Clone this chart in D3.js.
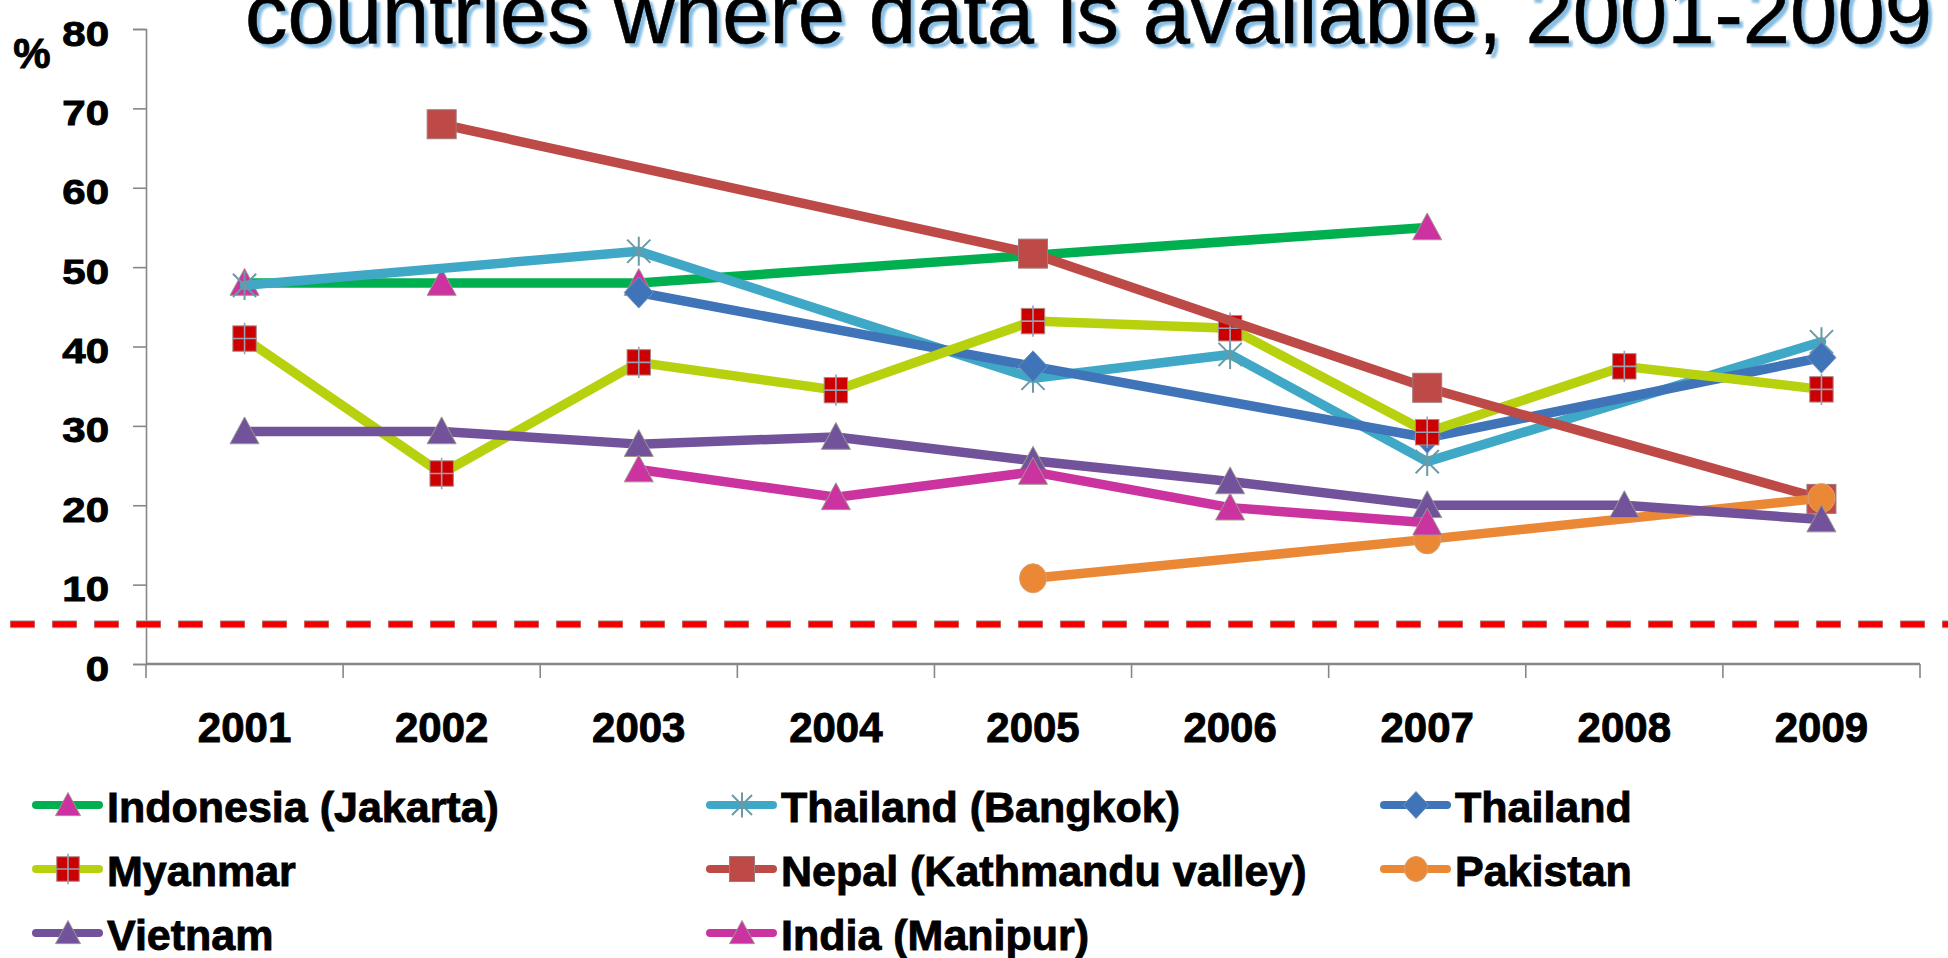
<!DOCTYPE html>
<html>
<head>
<meta charset="utf-8">
<script src="https://cdn.jsdelivr.net/npm/d3@7"></script>
<style>
  html, body { margin: 0; padding: 0; background: #fff; overflow: hidden; }
  text { font-family: "Liberation Sans", Arial, sans-serif; }
</style>
</head>
<body>
<script>
// data (% values, null = no survey that year)
const years = ["2001", "2002", "2003", "2004", "2005", "2006", "2007", "2008", "2009"];
const yTicks = [0, 10, 20, 30, 40, 50, 60, 70, 80];
const threshold = 5;

const indonesiaJakarta = [48, 48, 48, null, null, null, 55, null, null];
const thailandBangkok = [47.7, null, 52, null, 36, 39, 25.5, null, 40.6];
const thailand = [null, null, 46.8, null, 37.5, null, 28.5, null, 38.6];
const myanmar = [41, 24, 38, 34.5, 43.2, 42.3, 29.2, 37.5, 34.6];
const nepalKathmandu = [null, 68, null, null, 51.7, null, 34.8, null, 20.8];
const pakistan = [null, null, null, null, 10.8, null, 15.7, null, 20.9];
const vietnam = [29.3, 29.3, 27.7, 28.6, 25.6, 23, 20, 20, 18.2];
const indiaManipur = [null, null, 24.5, 21, 24.2, 19.7, 17.8, null, null];

const seriesNames = ["Indonesia (Jakarta)", "Thailand (Bangkok)", "Thailand", "Myanmar",
  "Nepal (Kathmandu valley)", "Pakistan", "Vietnam", "India (Manipur)"];

const series = [
  { name: seriesNames[0], values: indonesiaJakarta, line: "#00b050", marker: "triangle", fill: "#cc33a0" },
  { name: seriesNames[1], values: thailandBangkok, line: "#3fa8c6", marker: "star", fill: "#6a9aa6" },
  { name: seriesNames[2], values: thailand, line: "#3f74b8", marker: "diamond", fill: "#3f74b8" },
  { name: seriesNames[3], values: myanmar, line: "#b7d10e", marker: "crossSquare", fill: "#cc0000" },
  { name: seriesNames[4], values: nepalKathmandu, line: "#bd4a47", marker: "square", fill: "#bd4a47" },
  { name: seriesNames[5], values: pakistan, line: "#eb8836", marker: "circle", fill: "#eb8836" },
  { name: seriesNames[6], values: vietnam, line: "#71529b", marker: "triangle", fill: "#71529b" },
  { name: seriesNames[7], values: indiaManipur, line: "#cb34a0", marker: "triangle", fill: "#cb34a0" }
];

const width = 1948, height = 958;
const svg = d3.select("body").append("svg")
    .attr("width", width)
    .attr("height", height);

const x = d3.scaleBand().domain(years).range([146, 1920]);
const y = d3.scaleLinear().domain([0, 80]).range([664, 29]);

// title (top is cut off in the original)
const defs = svg.append("defs");
defs.append("filter").attr("id", "soft")
  .append("feGaussianBlur").attr("stdDeviation", 1.3);

const titleText = "countries where data is available, 2001-2009";
svg.append("text")
    .attr("x", 249).attr("y", 47)
    .attr("font-size", 85)
    .attr("fill", "#86bde4")
    .attr("filter", "url(#soft)")
    .text(titleText);
svg.append("text")
    .attr("x", 245).attr("y", 43)
    .attr("font-size", 85)
    .attr("fill", "#000")
    .attr("stroke", "#000").attr("stroke-width", 0.6)
    .text(titleText);

// bold labels look heavier in the original
function heavy(sel) {
  return sel.attr("font-weight", "bold").attr("fill", "#000")
    .attr("stroke", "#000").attr("stroke-width", 0.9);
}

// y axis
const yAxis = svg.append("g")
    .attr("transform", "translate(146,0)")
    .call(d3.axisLeft(y).tickValues(yTicks).tickSize(13).tickPadding(0).tickFormat(d3.format("d")));
yAxis.select(".domain").attr("stroke", "#878787").attr("stroke-width", 1.6);
yAxis.selectAll(".tick line").attr("stroke", "#878787").attr("stroke-width", 1.6);
yAxis.selectAll(".tick text").remove();
yAxis.selectAll(".tick").append("text")
    .attr("transform", "translate(-37,16) scale(1.2,1)")
    .attr("text-anchor", "end")
    .attr("font-size", 35)
    .call(heavy)
    .text(d => d);

svg.append("text")
    .attr("x", 32).attr("y", 68)
    .attr("text-anchor", "middle")
    .attr("font-size", 42)
    .call(heavy)
    .text("%");

// x axis: ticks on category boundaries
const xAxisG = svg.append("g");
xAxisG.append("line")
    .attr("x1", x.range()[0]).attr("x2", x.range()[1])
    .attr("y1", y(0)).attr("y2", y(0))
    .attr("stroke", "#878787").attr("stroke-width", 2.5);
xAxisG.selectAll("line.tk")
    .data(years.concat(["end"]))
    .enter().append("line")
    .attr("class", "tk")
    .attr("x1", (d, i) => x.range()[0] + i * x.bandwidth())
    .attr("x2", (d, i) => x.range()[0] + i * x.bandwidth())
    .attr("y1", y(0)).attr("y2", y(0) + 14)
    .attr("stroke", "#878787").attr("stroke-width", 1.6);
xAxisG.selectAll("text")
    .data(years)
    .enter().append("text")
    .attr("x", d => x(d) + x.bandwidth() / 2)
    .attr("y", 742)
    .attr("text-anchor", "middle")
    .attr("font-size", 42)
    .call(heavy)
    .text(d => d);

// 5% threshold, dashed red
svg.append("line")
    .attr("x1", 10).attr("x2", width)
    .attr("y1", y(threshold)).attr("y2", y(threshold))
    .attr("stroke", "#b0b0b0").attr("stroke-width", 8)
    .attr("stroke-dasharray", "25 17");
svg.append("line")
    .attr("x1", 10.5).attr("x2", width)
    .attr("y1", y(threshold)).attr("y2", y(threshold))
    .attr("stroke", "#f20000").attr("stroke-width", 6)
    .attr("stroke-dasharray", "24 18");

function drawMarker(g, type, s, fill) {
  const h = s / 2;
  if (type === "triangle") {
    g.append("path")
      .attr("d", `M0,${-h}L${h},${h * 0.85}L${-h},${h * 0.85}Z`)
      .attr("fill", fill).attr("stroke", "#9a9a8a").attr("stroke-width", 1);
  } else if (type === "diamond") {
    g.append("path")
      .attr("d", `M0,${-h - 1}L${h},0L0,${h + 1}L${-h},0Z`)
      .attr("fill", fill).attr("stroke", "#6f8fb8").attr("stroke-width", 1);
  } else if (type === "square") {
    g.append("rect")
      .attr("x", -h).attr("y", -h).attr("width", s).attr("height", s)
      .attr("fill", fill).attr("stroke", "#a07a7a").attr("stroke-width", 1);
  } else if (type === "crossSquare") {
    const q = h * 0.9;
    g.append("rect")
      .attr("x", -q).attr("y", -q - 1).attr("width", 2 * q).attr("height", 2 * q + 2)
      .attr("fill", fill).attr("stroke", "#a88").attr("stroke-width", 1);
    g.append("path")
      .attr("d", `M0,${-q - 4}V${q + 4}M${-q},0H${q}`)
      .attr("stroke", "#9aa0b0").attr("stroke-width", 1.6);
  } else if (type === "circle") {
    g.append("ellipse")
      .attr("rx", h - 1).attr("ry", h)
      .attr("fill", fill).attr("stroke", "#d9a070").attr("stroke-width", 1);
  } else if (type === "star") {
    const d = h * 0.8;
    g.append("path")
      .attr("d", `M0,${-h}V${h}M${-d},${-d}L${d},${d}M${d},${-d}L${-d},${d}`)
      .attr("stroke", fill).attr("stroke-width", 2).attr("fill", "none");
  }
}

const line = d3.line()
    .x(d => x(d.year) + x.bandwidth() / 2)
    .y(d => y(d.value));

series.forEach(s => {
  const pts = years.map((yr, i) => ({ year: yr, value: s.values[i] }))
      .filter(d => d.value !== null);
  const g = svg.append("g");
  g.append("path")
      .datum(pts)
      .attr("d", line)
      .attr("fill", "none")
      .attr("stroke", s.line)
      .attr("stroke-width", 9.5)
      .attr("stroke-linejoin", "round")
      .attr("stroke-linecap", "round");
  g.selectAll("g.m")
      .data(pts)
      .enter().append("g")
      .attr("class", "m")
      .attr("transform", d => `translate(${x(d.year) + x.bandwidth() / 2},${y(d.value)})`)
      .each(function () {
        drawMarker(d3.select(this), s.marker, s.marker === "crossSquare" ? 26 : 29, s.fill);
      });
});

// legend, 3 columns
const legend = svg.append("g").selectAll("g")
    .data(series)
    .enter().append("g")
    .attr("transform", (d, i) => `translate(${33 + (i % 3) * 674},${822 + Math.floor(i / 3) * 64})`);
legend.append("line")
    .attr("x1", 3).attr("x2", 66)
    .attr("y1", -17).attr("y2", -17)
    .attr("stroke", d => d.line)
    .attr("stroke-width", 8)
    .attr("stroke-linecap", "round");
legend.append("g")
    .attr("transform", "translate(35,-17)")
    .each(function (d) {
      drawMarker(d3.select(this), d.marker, 25, d.fill);
    });
legend.append("text")
    .attr("x", 74)
    .attr("y", 0)
    .attr("font-size", 43)
    .call(heavy)
    .text(d => d.name);
</script>
</body>
</html>
